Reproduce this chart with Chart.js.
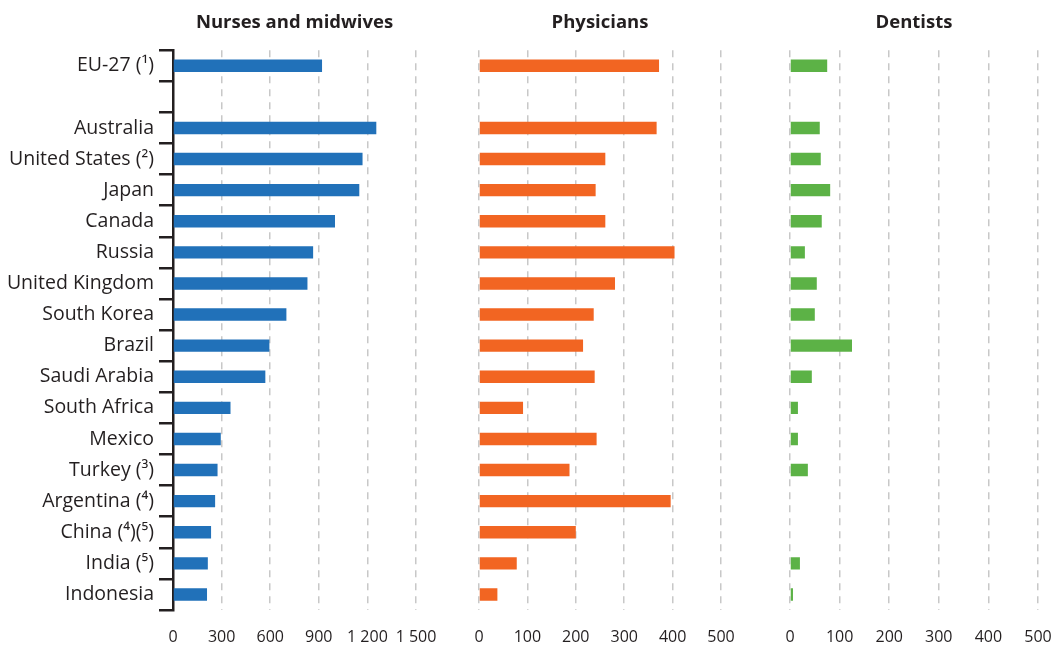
<!DOCTYPE html>
<html lang="en">
<head>
    <meta charset="UTF-8">
    <title>Health personnel per 100 000 inhabitants</title>
    <script src="https://cdn.jsdelivr.net/npm/chart.js"></script>
    <style>
        body { margin: 0; background: #fff; overflow: hidden; }
        .wrap { position: relative; width: 1056px; height: 648px; }
        canvas { position: absolute; top: 0; }
    </style>
</head>
<body>
    <div class="wrap">
        <canvas id="nurses" width="460" height="648" style="left:0"></canvas>
        <canvas id="physicians" width="310" height="648" style="left:450px"></canvas>
        <canvas id="dentists" width="296" height="648" style="left:760px"></canvas>
    </div>

    <script>
        // categories (empty string = spacer row after EU-27)
        const countries = ['EU-27 (¹)', '', 'Australia', 'United States (²)', 'Japan', 'Canada', 'Russia',
            'United Kingdom', 'South Korea', 'Brazil', 'Saudi Arabia', 'South Africa', 'Mexico',
            'Turkey (³)', 'Argentina (⁴)', 'China (⁴)(⁵)', 'India (⁵)', 'Indonesia'];

        // per 100 000 inhabitants
        const nurses = [920, null, 1255, 1170, 1150, 1000, 865, 830, 700, 595, 570, 355, 295, 275, 260, 235, 215, 210];
        const physicians = [372, null, 367, 261, 241, 261, 404, 281, 237, 215, 239, 91, 243, 187, 396, 200, 78, 38];
        const dentists = [75, null, 60, 62, 81, 64, 30, 54, 50, 125, 44, 16, 16, 36, null, null, 20, 6];

        const nurseTicks = ['0', '300', '600', '900', '1 200', '1 500'];
        const otherTicks = ['0', '100', '200', '300', '400', '500'];

        const textColor = '#231f20';
        const gridColor = '#c8c8c8';

        function makeChart(id, values, color, title, max, step, tickLabels, withAxis, pad) {
            return new Chart(document.getElementById(id), {
                type: 'bar',
                data: {
                    labels: countries,
                    datasets: [{
                        data: values,
                        backgroundColor: color,
                        barPercentage: 0.4,
                        categoryPercentage: 1
                    }]
                },
                options: {
                    indexAxis: 'y',
                    responsive: false,
                    animation: false,
                    layout: { padding: { top: 12, bottom: 0, left: pad[0], right: pad[1] } },
                    plugins: {
                        legend: { display: false },
                        tooltip: { enabled: false },
                        title: {
                            display: true,
                            text: title,
                            fullSize: false,
                            color: textColor,
                            font: { family: 'Open Sans', size: 18.5, weight: 'bold' },
                            padding: { top: 0, bottom: 16 }
                        }
                    },
                    scales: {
                        x: {
                            min: 0,
                            max: max,
                            // fixed height, and no extra room for the end labels
                            afterFit: s => { s.height = 38; s.paddingLeft = 0; s.paddingRight = 0; },
                            ticks: {
                                stepSize: step,
                                padding: 18,
                                maxRotation: 0,
                                color: textColor,
                                font: { family: 'Open Sans', size: 16 },
                                callback: (v, i) => tickLabels[i]
                            },
                            grid: {
                                color: c => (withAxis && c.tick && c.tick.value === 0) ? 'rgba(0,0,0,0)' : gridColor,
                                lineWidth: 1.5,
                                drawTicks: false
                            },
                            border: { display: false, dash: [7, 6] }
                        },
                        y: {
                            display: withAxis,
                            afterFit: s => { if (withAxis) s.width = 173; },
                            ticks: {
                                padding: 5,
                                color: textColor,
                                font: { family: 'Open Sans', size: 19.5 }
                            },
                            grid: {
                                drawOnChartArea: false,
                                color: textColor,
                                lineWidth: 2.5,
                                tickLength: 14
                            },
                            border: { display: true, color: textColor, width: 2.5 }
                        }
                    }
                }
            });
        }

        makeChart('nurses', nurses, '#2171b9', 'Nurses and midwives', 1500, 300, nurseTicks, true, [0, 44]);
        makeChart('physicians', physicians, '#f26522', 'Physicians', 500, 100, otherTicks, false, [29, 39]);
        makeChart('dentists', dentists, '#5cb246', 'Dentists', 500, 100, otherTicks, false, [30, 18]);
    </script>
</body>
</html>
